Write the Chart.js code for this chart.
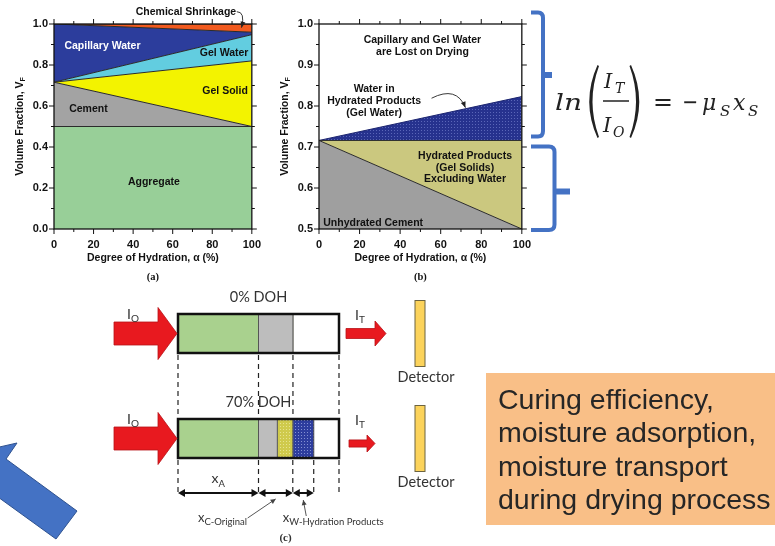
<!DOCTYPE html>
<html>
<head>
<meta charset="utf-8">
<script src="https://cdn.jsdelivr.net/npm/chart.js@4.4.0/dist/chart.umd.min.js"></script>
<style>
  body { margin: 0; background: #fff; width: 775px; height: 546px; overflow: hidden; position: relative; }
  canvas { position: absolute; }
  #ca { left: 0; top: 0; }
  #cb { left: 270px; top: 0; }
  #cc { left: 90px; top: 275px; }
  svg { position: absolute; left: 0; top: 0; }
</style>
</head>
<body>
<canvas id="ca" width="270" height="290"></canvas>
<canvas id="cb" width="270" height="290"></canvas>
<canvas id="cc" width="380" height="271"></canvas>

<svg width="775" height="546" viewBox="0 0 775 546">
  <!-- braces -->
  <g fill="none" stroke="#4472c4" stroke-width="4">
    <path d="M531 12.5 H538 Q543 12.5 543 18 V131 Q543 136.5 538 136.5 H531"/>
    <path d="M543 75 H552" stroke-width="6"/>
    <path d="M531 146.5 H549 Q554.5 146.5 554.5 152 V224.5 Q554.5 230 549 230 H531"/>
    <path d="M554.5 191.5 H570" stroke-width="6"/>
  </g>
  <!-- equation -->
  <g font-family="'DejaVu Serif', serif" fill="#222">
    <text x="555" y="110" font-size="22" font-style="italic" textLength="27" lengthAdjust="spacingAndGlyphs">ln</text>
    <path d="M597.5 65 Q581 101.5 597.5 138 L599 137 Q586 101.5 599 66 Z"/>
    <text x="604" y="88" font-size="21" font-style="italic">I</text>
    <text x="615" y="93" font-size="14" font-style="italic">T</text>
    <line x1="603" y1="101" x2="629" y2="101" stroke="#222" stroke-width="1.5"/>
    <text x="603" y="132" font-size="21" font-style="italic">I</text>
    <text x="613" y="137" font-size="14" font-style="italic">O</text>
    <path d="M631 65 Q647.5 101.5 631 138 L629.5 137 Q642.5 101.5 629.5 66 Z"/>
    <text x="653" y="110" font-size="24" textLength="20" lengthAdjust="spacingAndGlyphs">=</text>
    <text x="682" y="110" font-size="24" textLength="16" lengthAdjust="spacingAndGlyphs">−</text>
    <text x="702" y="110" font-size="22" font-style="italic">μ</text>
    <text x="720" y="116" font-size="15" font-style="italic">S</text>
    <text x="733" y="110" font-size="22" font-style="italic">x</text>
    <text x="748" y="116" font-size="15" font-style="italic">S</text>
  </g>
  <!-- big blue arrow -->
  <polygon points="-40,456 17,443 6,459 77,511 56,539 -20,484" fill="#4472c4" stroke="#2f528f" stroke-width="1"/>
  <!-- orange note -->
  <rect x="486" y="373" width="300" height="152" fill="#f9bf87"/>
  <g font-family="'Liberation Sans', Arial, sans-serif" font-size="28.5" fill="#262626">
    <text x="498" y="408.5">Curing efficiency,</text>
    <text x="498" y="442">moisture adsorption,</text>
    <text x="498" y="475.5">moisture transport</text>
    <text x="498" y="509">during drying process</text>
  </g>
</svg>

<script>
// ---- (a) volume fractions vs degree of hydration (component thickness) ----
const hydration = [0, 100];
const aggregate = [0.5, 0.5];
const cement = [0.216, 0];
const gelSolid = [0, 0.32];
const gelWater = [0, 0.128];
const capillaryWater = [0.284, 0.012];
const chemShrinkage = [0, 0.04];

// ---- (b) dried specimen, upper boundary of each region ----
const unhydratedTop = [0.716, 0.5];
const gelSolidsTop = [0.716, 0.716];
const gelWaterTop = [0.716, 0.823];

// ---- ticks ----
const hydrationTicks = [0, 20, 40, 60, 80, 100];
const yTicksA = [0, 0.2, 0.4, 0.6, 0.8, 1.0];
const yTicksB = [0.5, 0.6, 0.7, 0.8, 0.9, 1.0];

// ---- (c) beam path fractions ----
const doh = ['0% DOH', '70% DOH'];
const pathAggregate = [0.5, 0.5];
const pathCement = [0.214, 0.117];
const pathSolids = [0, 0.096];
const pathGelWater = [0, 0.13];
const pathEmpty = [0.286, 0.157];

const SANS = '"Liberation Sans", Arial, sans-serif';
const axisFont = { family: SANS, size: 11, weight: 'bold' };

const hatch = (bg, fg) => {
  const c = document.createElement('canvas');
  c.width = 3; c.height = 3;
  const g = c.getContext('2d');
  g.fillStyle = bg; g.fillRect(0, 0, 3, 3);
  g.fillStyle = fg; g.fillRect(1, 1, 1, 1);
  return g.createPattern(c, 'repeat');
};

const series = (vals) => vals.map((v, i) => ({ x: hydration[i], y: v }));

function arrowHead(ctx, fx, fy, tx, ty, len, half) {
  const ang = Math.atan2(ty - fy, tx - fx);
  ctx.beginPath();
  ctx.moveTo(tx, ty);
  ctx.lineTo(tx - len * Math.cos(ang) + half * Math.sin(ang), ty - len * Math.sin(ang) - half * Math.cos(ang));
  ctx.lineTo(tx - len * Math.cos(ang) - half * Math.sin(ang), ty - len * Math.sin(ang) + half * Math.cos(ang));
  ctx.closePath();
  ctx.fill();
}

// frame + mirrored ticks on all four sides
const framePlugin = {
  id: 'frame',
  afterDatasetsDraw(chart, args, o) {
    const { ctx, chartArea: a, scales: { x, y } } = chart;
    ctx.save();
    ctx.strokeStyle = '#111';
    ctx.lineWidth = 1;
    const marks = (scale, step, every, fn) => {
      const n = Math.round((scale.max - scale.min) / step);
      for (let i = 0; i <= n; i++) fn(scale.getPixelForValue(scale.min + i * step), i % every === 0 ? 5 : 3);
    };
    ctx.beginPath();
    marks(x, o.xStep, o.xEvery, (p, l) => {
      ctx.moveTo(p, a.bottom); ctx.lineTo(p, a.bottom + l);
      ctx.moveTo(p, a.top); ctx.lineTo(p, a.top - l);
    });
    marks(y, o.yStep, o.yEvery, (p, l) => {
      ctx.moveTo(a.left, p); ctx.lineTo(a.left - l, p);
      ctx.moveTo(a.right, p); ctx.lineTo(a.right + l, p);
    });
    ctx.stroke();
    ctx.lineWidth = 1.3;
    ctx.strokeRect(a.left, a.top, a.right - a.left, a.bottom - a.top);
    ctx.restore();
  }
};

// region labels, pointers, axis titles, caption
const notesPlugin = {
  id: 'notes',
  afterDatasetsDraw(chart, args, o) {
    const { ctx, chartArea: a, scales: { x, y } } = chart;
    ctx.save();
    ctx.textAlign = 'center';
    ctx.textBaseline = 'middle';
    o.items.forEach(it => {
      ctx.font = `bold 10.5px ${SANS}`;
      ctx.fillStyle = it.color || '#111';
      const px = x.getPixelForValue(it.x), py = y.getPixelForValue(it.y);
      it.lines.forEach((ln, k) => ctx.fillText(ln, px, py + (k - (it.lines.length - 1) / 2) * 11.6));
    });
    o.pointers.forEach(p => {
      const f = [x.getPixelForValue(p.from[0]), y.getPixelForValue(p.from[1])];
      const c = [x.getPixelForValue(p.ctrl[0]), y.getPixelForValue(p.ctrl[1])];
      const t = [x.getPixelForValue(p.to[0]), y.getPixelForValue(p.to[1])];
      ctx.strokeStyle = '#222'; ctx.fillStyle = '#222'; ctx.lineWidth = 0.9;
      ctx.beginPath(); ctx.moveTo(f[0], f[1]); ctx.quadraticCurveTo(c[0], c[1], t[0], t[1]); ctx.stroke();
      arrowHead(ctx, c[0], c[1], t[0], t[1], 6, 2.5);
    });
    // x title
    ctx.fillStyle = '#111';
    ctx.font = `bold 10.5px ${SANS}`;
    const cx = (a.left + a.right) / 2;
    ctx.fillText('Degree of Hydration, \u03b1 (%)', cx, a.bottom + 29);
    // caption
    ctx.font = 'bold 10.5px "Liberation Serif", "Times New Roman", serif';
    ctx.fillText(o.caption, cx, a.bottom + 48);
    // y title with subscript
    ctx.translate(a.left - 34, (a.top + a.bottom) / 2);
    ctx.rotate(-Math.PI / 2);
    ctx.font = `bold 10.5px ${SANS}`;
    const main = 'Volume Fraction, V';
    const w1 = ctx.measureText(main).width;
    ctx.font = `bold 7px ${SANS}`;
    const w2 = ctx.measureText('F').width;
    ctx.textAlign = 'left';
    ctx.font = `bold 10.5px ${SANS}`;
    ctx.fillText(main, -(w1 + w2) / 2, 0);
    ctx.font = `bold 7px ${SANS}`;
    ctx.fillText('F', -(w1 + w2) / 2 + w1, 3);
    ctx.restore();
  }
};

function panel(id, sets, opt) {
  return new Chart(document.getElementById(id), {
    type: 'line',
    data: { datasets: sets },
    options: {
      responsive: false,
      animation: false,
      layout: { padding: opt.pad },
      elements: {
        point: { radius: 0 },
        line: { borderWidth: 1, borderColor: '#2b2b2b', tension: 0 }
      },
      plugins: {
        legend: { display: false },
        tooltip: { enabled: false },
        frame: opt.frame,
        notes: opt.notes
      },
      scales: {
        x: {
          type: 'linear', min: 0, max: 100,
          grid: { display: false, drawTicks: false }, border: { display: false },
          afterBuildTicks: s => { s.ticks = hydrationTicks.map(v => ({ value: v })); },
          afterFit: s => { s.height = 32; },
          ticks: { font: axisFont, color: '#111', padding: 9, maxRotation: 0 }
        },
        y: {
          min: opt.yTicks[0], max: opt.yTicks[opt.yTicks.length - 1], stacked: opt.stacked,
          grid: { display: false, drawTicks: false }, border: { display: false },
          afterBuildTicks: s => { s.ticks = opt.yTicks.map(v => ({ value: v })); },
          afterFit: s => { s.width = opt.yw; },
          ticks: { font: axisFont, color: '#111', padding: 6, callback: v => v.toFixed(1) }
        }
      }
    },
    plugins: [framePlugin, notesPlugin]
  });
}

// ---------- (a) ----------
panel('ca', [
  { data: series(aggregate), backgroundColor: '#98cf98', fill: 'origin' },
  { data: series(cement), backgroundColor: '#a3a3a3', fill: '-1' },
  { data: series(gelSolid), backgroundColor: '#f3f300', fill: '-1' },
  { data: series(gelWater), backgroundColor: '#62cde0', fill: '-1' },
  { data: series(capillaryWater), backgroundColor: '#2c3d9c', fill: '-1' },
  { data: series(chemShrinkage), backgroundColor: '#f25a1e', fill: '-1' }
], {
  yTicks: yTicksA, stacked: true, yw: 54,
  pad: { left: 0, right: 12, top: 24, bottom: 29 },
  frame: { xStep: 10, xEvery: 2, yStep: 0.1, yEvery: 2 },
  notes: {
    caption: '(a)',
    items: [
      { lines: ['Capillary Water'], x: 24.5, y: 0.89, color: '#ffffff' },
      { lines: ['Gel Water'], x: 86, y: 0.86 },
      { lines: ['Gel Solid'], x: 86.5, y: 0.674 },
      { lines: ['Cement'], x: 17.4, y: 0.584 },
      { lines: ['Aggregate'], x: 50.5, y: 0.23 },
      { lines: ['Chemical Shrinkage'], x: 66.7, y: 1.06 }
    ],
    pointers: [{ from: [92.4, 1.06], ctrl: [96.8, 1.06], to: [94.8, 0.982] }]
  }
});

// ---------- (b) ----------
panel('cb', [
  { data: series(unhydratedTop), backgroundColor: '#9f9f9f', fill: 'start' },
  { data: series(gelSolidsTop), backgroundColor: '#cbc87f', fill: '-1' },
  { data: series(gelWaterTop), backgroundColor: hatch('#26328e', '#5a66b8'), borderColor: '#1c2570', fill: '-1' }
], {
  yTicks: yTicksB, stacked: false, yw: 49,
  pad: { left: 0, right: 16, top: 24, bottom: 29 },
  frame: { xStep: 10, xEvery: 2, yStep: 0.05, yEvery: 2 },
  notes: {
    caption: '(b)',
    items: [
      { lines: ['Capillary and Gel Water', 'are Lost on Drying'], x: 51, y: 0.946 },
      { lines: ['Water in', 'Hydrated Products', '(Gel Water)'], x: 27.2, y: 0.812 },
      { lines: ['Hydrated Products', '(Gel Solids)', 'Excluding Water'], x: 72, y: 0.649 },
      { lines: ['Unhydrated Cement'], x: 26.7, y: 0.514 }
    ],
    pointers: [{ from: [55.5, 0.819], ctrl: [67.8, 0.85], to: [72.2, 0.796] }]
  }
});

// ---------- (c) ----------
const LATO = 'Lato, "Open Sans", sans-serif';

function subText(ctx, main, s, x, y, size, subSize, align) {
  ctx.font = `${size}px ${LATO}`;
  const w1 = ctx.measureText(main).width;
  ctx.font = `${subSize}px ${LATO}`;
  const w2 = ctx.measureText(s).width;
  const x0 = align === 'center' ? x - (w1 + w2) / 2 : x;
  ctx.textAlign = 'left';
  ctx.textBaseline = 'alphabetic';
  ctx.font = `${size}px ${LATO}`;
  ctx.fillText(main, x0, y);
  ctx.font = `${subSize}px ${LATO}`;
  ctx.fillText(s, x0 + w1, y + size * 0.25);
}

function redArrow(ctx, x0, shaftEnd, tip, yc, shaftHalf, headHalf) {
  ctx.beginPath();
  ctx.moveTo(x0, yc - shaftHalf);
  ctx.lineTo(shaftEnd, yc - shaftHalf);
  ctx.lineTo(shaftEnd, yc - headHalf);
  ctx.lineTo(tip, yc);
  ctx.lineTo(shaftEnd, yc + headHalf);
  ctx.lineTo(shaftEnd, yc + shaftHalf);
  ctx.lineTo(x0, yc + shaftHalf);
  ctx.closePath();
  ctx.fillStyle = '#e8191f';
  ctx.fill();
  ctx.strokeStyle = '#b81216';
  ctx.lineWidth = 0.8;
  ctx.stroke();
}

function dblArrow(ctx, xa, xb, yy) {
  ctx.beginPath(); ctx.moveTo(xa + 3, yy); ctx.lineTo(xb - 3, yy); ctx.stroke();
  arrowHead(ctx, xb, yy, xa, yy, 7, 4);
  arrowHead(ctx, xa, yy, xb, yy, 7, 4);
}

const beamPlugin = {
  id: 'beam',
  afterDatasetsDraw(chart) {
    const { ctx, scales: { x } } = chart;
    const sets = chart.data.datasets;
    const H = 39;
    const rows = chart.getDatasetMeta(0).data.map((bar, i) => {
      let s = 0;
      const edges = [x.getPixelForValue(0)];
      sets.forEach(d => { s += d.data[i]; edges.push(x.getPixelForValue(s)); });
      return { yc: bar.y, top: bar.y - H / 2, bot: bar.y + H / 2, edges };
    });
    ctx.save();
    // inner boundaries and outer frame
    rows.forEach(r => {
      ctx.strokeStyle = '#555'; ctx.lineWidth = 1;
      ctx.beginPath();
      for (let k = 1; k < r.edges.length - 1; k++) {
        if (r.edges[k] - r.edges[k - 1] > 0.5) { ctx.moveTo(r.edges[k], r.top); ctx.lineTo(r.edges[k], r.bot); }
      }
      ctx.stroke();
      ctx.strokeStyle = '#111'; ctx.lineWidth = 2.5;
      ctx.strokeRect(r.edges[0], r.top, r.edges[r.edges.length - 1] - r.edges[0], H);
    });
    const [r0, r1] = rows;
    // dashed guides
    ctx.strokeStyle = '#222'; ctx.lineWidth = 1.2; ctx.setLineDash([5, 4]);
    ctx.beginPath();
    const between = r0.edges.filter((e, k) => k === 0 || e - r0.edges[k - 1] > 0.5);
    between.forEach(e => { ctx.moveTo(e, r0.bot + 2); ctx.lineTo(e, r1.top - 2); });
    [0, 1, 3, 4, 5].forEach(k => { ctx.moveTo(r1.edges[k], r1.bot + 2); ctx.lineTo(r1.edges[k], r1.bot + 36); });
    ctx.stroke();
    ctx.setLineDash([]);
    // thickness arrows
    const ay = r1.bot + 35;
    ctx.strokeStyle = '#111'; ctx.fillStyle = '#111'; ctx.lineWidth = 2;
    dblArrow(ctx, r1.edges[0], r1.edges[1], ay);
    dblArrow(ctx, r1.edges[1], r1.edges[3], ay);
    dblArrow(ctx, r1.edges[3], r1.edges[4], ay);
    // pointers to the thickness labels
    ctx.lineWidth = 0.9; ctx.strokeStyle = '#444'; ctx.fillStyle = '#444';
    const m2 = (r1.edges[1] + r1.edges[3]) / 2, m3 = (r1.edges[3] + r1.edges[4]) / 2;
    ctx.beginPath(); ctx.moveTo(m2 - 28, ay + 25); ctx.lineTo(m2, ay + 6); ctx.stroke();
    arrowHead(ctx, m2 - 28, ay + 25, m2, ay + 6, 5, 2.5);
    ctx.beginPath(); ctx.moveTo(m3 + 3, ay + 23); ctx.lineTo(m3, ay + 7); ctx.stroke();
    arrowHead(ctx, m3 + 3, ay + 23, m3, ay + 7, 5, 2.5);
    // labels
    ctx.fillStyle = '#333';
    subText(ctx, 'x', 'A', (r1.edges[0] + r1.edges[1]) / 2, ay - 10, 14, 9.5, 'center');
    subText(ctx, 'x', 'C-Original', r1.edges[0] + 20, ay + 29, 13, 9.5, 'left');
    subText(ctx, 'x', 'W-Hydration Products', r1.edges[3] - 10, ay + 29, 13, 9.5, 'left');
    ctx.font = 'bold 11px "Liberation Serif", "Times New Roman", serif';
    ctx.textAlign = 'center'; ctx.textBaseline = 'middle';
    ctx.fillText('(c)', r1.edges[0] + 107.5, ay + 45);
    // beams, detectors, titles
    const x0 = r0.edges[0], x1 = r0.edges[r0.edges.length - 1];
    const outSizes = [[7, 36, 47, 5, 12.5, 0], [10, 28, 36, 3.6, 8.5, 5]];
    rows.forEach((r, i) => {
      redArrow(ctx, x0 - 64, x0 - 20, x0 - 1, r.yc, 11.5, 26);
      const o = outSizes[i];
      redArrow(ctx, x1 + o[0], x1 + o[1], x1 + o[2], r.yc + o[5], o[3], o[4]);
      ctx.fillStyle = '#fcd35b'; ctx.strokeStyle = '#6d6440'; ctx.lineWidth = 1;
      ctx.fillRect(x1 + 76, r.yc - 33, 10, 66);
      ctx.strokeRect(x1 + 76, r.yc - 33, 10, 66);
      ctx.fillStyle = '#333';
      ctx.font = `14.5px ${LATO}`;
      ctx.textAlign = 'center'; ctx.textBaseline = 'middle';
      ctx.fillText('Detector', x1 + 87, r.yc + 44);
      ctx.fillText(chart.data.labels[i], (x0 + x1) / 2, r.yc - 36);
      subText(ctx, 'I', 'O', x0 - 51, r.yc - 15, 14, 10, 'left');
      subText(ctx, 'I', 'T', x1 + 16, r.yc - 14, 14, 10, 'left');
    });
    ctx.restore();
  }
};

new Chart(document.getElementById('cc'), {
  type: 'bar',
  data: {
    labels: doh,
    datasets: [
      { data: pathAggregate, backgroundColor: '#a9d18e' },
      { data: pathCement, backgroundColor: '#bdbdbd' },
      { data: pathSolids, backgroundColor: hatch('#cfca4c', '#e6e38e') },
      { data: pathGelWater, backgroundColor: hatch('#2d3d9e', '#8490d2') },
      { data: pathEmpty, backgroundColor: '#ffffff' }
    ]
  },
  options: {
    indexAxis: 'y',
    responsive: false,
    animation: false,
    layout: { padding: { left: 88, right: 131, top: 6, bottom: 55 } },
    datasets: { bar: { barThickness: 39, borderWidth: 0 } },
    plugins: { legend: { display: false }, tooltip: { enabled: false } },
    scales: {
      x: { stacked: true, min: 0, max: 1, display: false },
      y: { stacked: true, display: false }
    }
  },
  plugins: [beamPlugin]
});
</script>
</body>
</html>
